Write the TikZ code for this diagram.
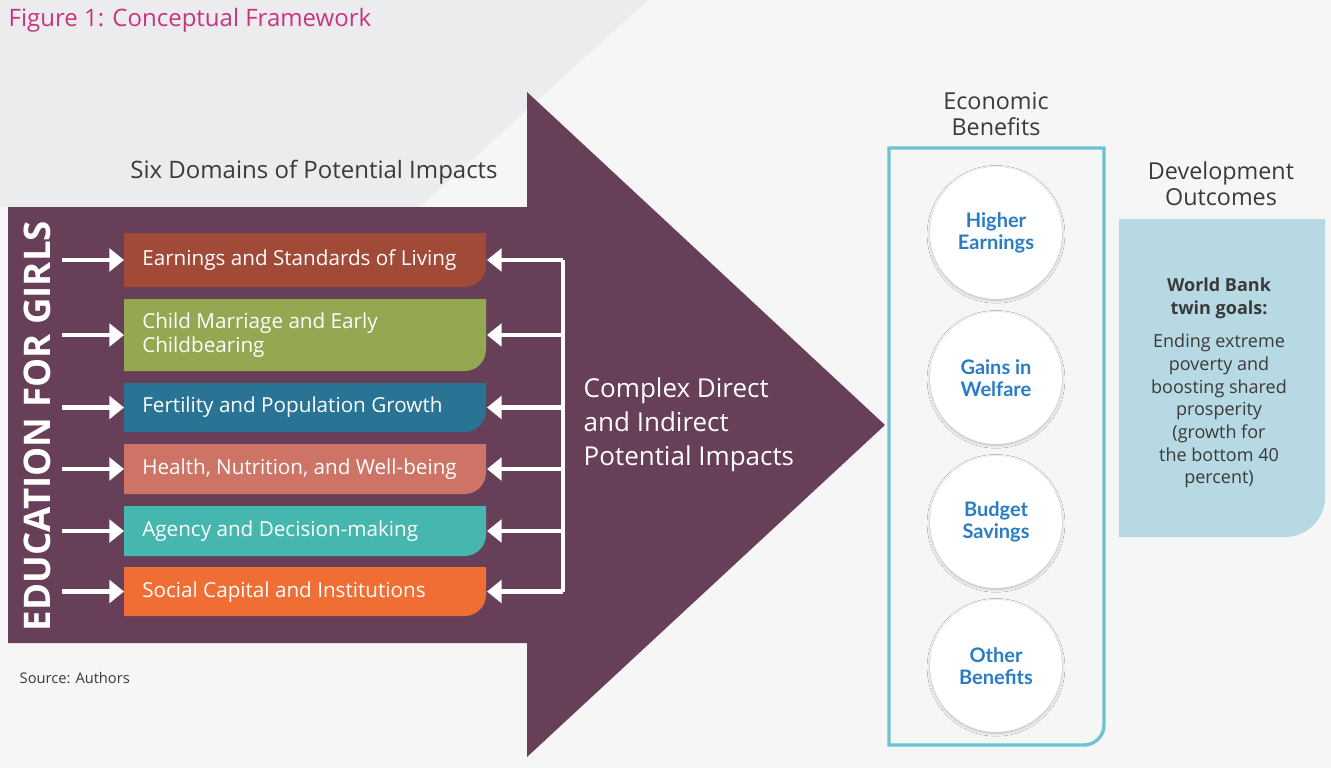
\documentclass[tikz,border=0pt]{standalone}
\usepackage{fontspec}
\setmainfont{Open Sans}
\newfontfamily\circfont{Lato}
\usetikzlibrary{arrows.meta,shadows.blur}
\definecolor{bg}{HTML}{F6F6F6}
\definecolor{band}{HTML}{ECECEE}
\definecolor{plum}{HTML}{673F58}
\definecolor{cA}{HTML}{A14A37}
\definecolor{cB}{HTML}{93A850}
\definecolor{cC}{HTML}{297395}
\definecolor{cD}{HTML}{CD7466}
\definecolor{cE}{HTML}{45B7AF}
\definecolor{cF}{HTML}{F06E33}
\definecolor{pink}{HTML}{C8357F}
\definecolor{dgray}{HTML}{3A3A3A}
\definecolor{teal}{HTML}{6CC3D3}
\definecolor{lblue}{HTML}{B7D9E3}
\definecolor{cblue}{HTML}{2A7DC4}
\tikzset{
  dombox/.style={text=white,anchor=west,align=left,inner sep=0pt,font=\fontsize{15.5}{18}\selectfont},
  wharrow/.style={draw=white,line width=3.5pt,-{Triangle[length=11pt,width=17pt]}},
  bencirc/.style={circle,fill=white,minimum size=99pt,inner sep=0pt,align=center,text=cblue,font=\circfont\bfseries\fontsize{15}{16}\selectfont,blur shadow={shadow blur steps=6,shadow xshift=0pt,shadow yshift=-1pt,shadow opacity=25}},
  heading/.style={text=dgray,align=center,font=\fontsize{17.5}{19.5}\selectfont}
}
\begin{document}
\begin{tikzpicture}[x=0.75pt,y=-0.75pt]
\useasboundingbox (0,0) rectangle (1331,768);
\fill[bg] (0,0) rectangle (1331,768);
\fill[band] (0,0) -- (648,0) -- (420,207) -- (0,207) -- cycle;
\node[anchor=west,text=pink,font=\fontsize{18}{20}\selectfont] (title) at (4,20) {Figure 1: Conceptual Framework};
% big arrow
\fill[plum] (8,207) -- (527,207) -- (527,92) -- (885,425) -- (527,757) -- (527,643) -- (8,643) -- cycle;
\node[heading,font=\fontsize{18}{20}\selectfont] (six) at (314,172) {Six Domains of Potential Impacts};
\node[rotate=90,text=white,font=\bfseries\fontsize{27.5}{28}\selectfont] (edu) at (37,426) {EDUCATION FOR GIRLS};
% domain boxes
\foreach \n/\t/\b/\c in {a/233/287/cA,b/299/371/cB,c/383/432/cC,d/444/494/cD,e/506/556/cE,f/567/616/cF}{
  \fill[\c] (124,\t) -- (486,\t) [rounded corners=16pt] -- (486,\b) [sharp corners] -- (124,\b) -- cycle;
  \coordinate (\n L) at (124,{(\t+\b)/2});
  \coordinate (\n R) at (487,{(\t+\b)/2});
  \coordinate (\n S) at (62,{(\t+\b)/2});
  \coordinate (\n B) at (563,{(\t+\b)/2});
}
\node[dombox] (ta) at (142,260) {Earnings and Standards of Living};
\node[dombox] (tb) at (142,335) {Child Marriage and Early\\Childbearing};
\node[dombox] (tc) at (142,407) {Fertility and Population Growth};
\node[dombox] (td) at (142,469) {Health, Nutrition, and Well-being};
\node[dombox] (te) at (142,531) {Agency and Decision-making};
\node[dombox] (tf) at (142,592) {Social Capital and Institutions};
\foreach \n in {a,b,c,d,e,f}{
  \draw[wharrow] (\n S) -- (\n L);
  \draw[wharrow] (\n B) -- (\n R);
}
\draw[white,line width=3.5pt] (aB) -- (fB);
\node[anchor=north west,text=white,align=left,font=\fontsize{19.5}{25.5}\selectfont] (complex) at (579,373) {Complex Direct\\and Indirect\\Potential Impacts};
% economic benefits
\node[heading] (econ) at (996,114) {Economic\\Benefits};
\draw[teal,line width=2.5pt] (889,148) -- (1104,148) [rounded corners=15pt] -- (1104,745) [sharp corners] -- (889,745) -- cycle;
\node[bencirc] (c1) at (996,233) {Higher\\Earnings};
\node[bencirc] (c2) at (996,378) {Gains in\\Welfare};
\node[bencirc] (c3) at (996,522) {Budget\\Savings};
\node[bencirc] (c4) at (996,666) {Other\\Benefits};
% development outcomes
\node[heading] (dev) at (1221,184) {Development\\Outcomes};
\fill[lblue] (1119,219) -- (1325,219) [rounded corners=30pt] -- (1325,537) [sharp corners] -- (1119,537) -- cycle;
\node[text=dgray,align=center,font=\fontsize{13.5}{17}\selectfont] (wb) at (1219,383) {\textbf{World Bank}\\\textbf{twin goals:}\\[8pt]Ending extreme\\poverty and\\boosting shared\\prosperity\\(growth for\\the bottom 40\\percent)};
\node[anchor=west,text=dgray,font=\fontsize{11}{13}\selectfont] (src) at (15,678) {Source: Authors};
\end{tikzpicture}
\end{document}
